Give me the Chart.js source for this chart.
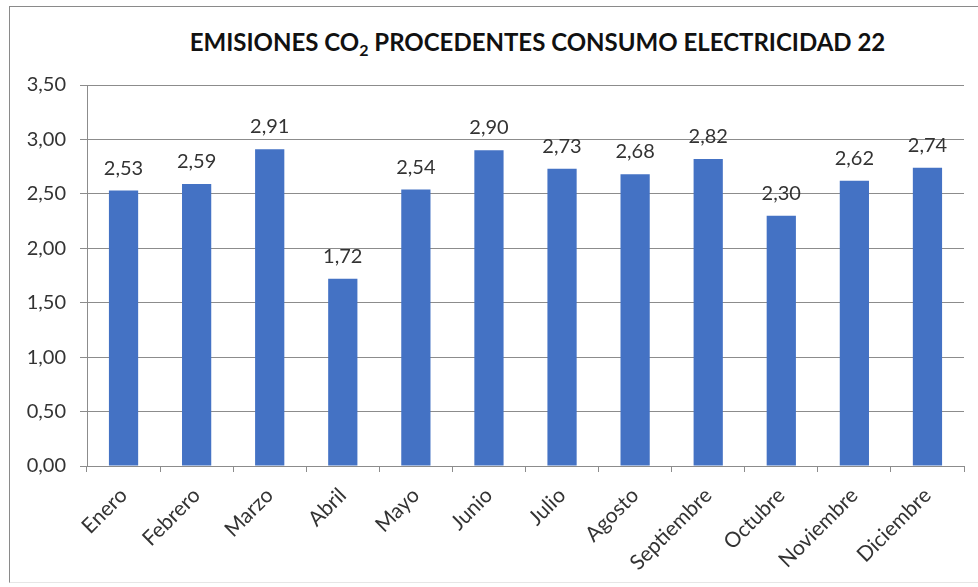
<!DOCTYPE html>
<html>
<head>
<meta charset="utf-8">
<script src="https://cdn.jsdelivr.net/npm/chart.js@4"></script>
<style>
  html, body { margin: 0; padding: 0; background: #fff; }
  #wrap { position: relative; width: 978px; height: 587px; overflow: hidden; }
  #frame {
    position: absolute; left: 9px; top: 6px; width: 1000px; height: 577px;
    border: 1px solid #8a8a8a; border-bottom-color: #e6e6e6; box-sizing: border-box;
  }
  #title {
    position: absolute; left: 0; width: 1075px; top: 27px; text-align: center;
    font-family: Lato, sans-serif; font-weight: bold; font-size: 24px; color: #111;
    white-space: nowrap;
  }
  #title sub { font-size: 16px; vertical-align: -5px; line-height: 0; }
  canvas { position: absolute; left: 0; top: 0; }
</style>
</head>
<body>
<div id="wrap">
  <div id="frame"></div>
  <div id="title">EMISIONES CO<sub>2</sub> PROCEDENTES CONSUMO ELECTRICIDAD 22</div>
  <canvas id="chart" width="978" height="587"></canvas>
</div>
<script>
const months = ["Enero", "Febrero", "Marzo", "Abril", "Mayo", "Junio", "Julio",
  "Agosto", "Septiembre", "Octubre", "Noviembre", "Diciembre"];
const emissions = [2.53, 2.59, 2.91, 1.72, 2.54, 2.90, 2.73, 2.68, 2.82, 2.30, 2.62, 2.74];
const yTicks = [0, 0.5, 1, 1.5, 2, 2.5, 3, 3.5];

const $ = (id) => document.getElementById(id);
const fmt = (v) => v.toFixed(2).replace(".", ",");
const FONT = "Lato, sans-serif";
const TEXT = "#333";
const GRID = "#8c8c8c";

// value labels above each bar
const barLabels = {
  id: "barLabels",
  afterDatasetsDraw(chart) {
    const ctx = chart.ctx;
    const meta = chart.getDatasetMeta(0);
    ctx.save();
    ctx.font = `20px ${FONT}`;
    ctx.fillStyle = TEXT;
    ctx.textAlign = "center";
    ctx.textBaseline = "alphabetic";
    meta.data.forEach((bar, i) => {
      ctx.fillText(fmt(emissions[i]), bar.x, bar.y - 16);
    });
    ctx.restore();
  },
};

new Chart($("chart").getContext("2d"), {
  type: "bar",
  data: {
    labels: months,
    datasets: [{
      data: emissions,
      backgroundColor: "#4472c4",
      barPercentage: 0.4,
      categoryPercentage: 1,
    }],
  },
  options: {
    responsive: false,
    animation: false,
    layout: { padding: { top: 85, right: 14, left: 0, bottom: 0 } },
    plugins: {
      legend: { display: false },
      tooltip: { enabled: false },
    },
    scales: {
      y: {
        min: 0,
        max: 3.5,
        afterBuildTicks: (s) => { s.ticks = yTicks.map((v) => ({ value: v })); },
        afterFit: (s) => { s.width = 87; },
        ticks: {
          color: TEXT,
          font: { family: FONT, size: 20 },
          padding: 14,
          callback: (v) => fmt(v),
        },
        grid: { color: GRID, tickLength: 7, lineWidth: 1 },
        border: { display: true, color: GRID },
      },
      x: {
        afterFit: (s) => { s.height = 121; },
        ticks: {
          color: TEXT,
          font: { family: FONT, size: 21 },
          minRotation: 45,
          maxRotation: 45,
          padding: 11,
        },
        grid: { offset: true, drawOnChartArea: false, color: GRID, tickLength: 6 },
        border: { display: true, color: GRID },
      },
    },
  },
  plugins: [barLabels],
});
</script>
</body>
</html>
